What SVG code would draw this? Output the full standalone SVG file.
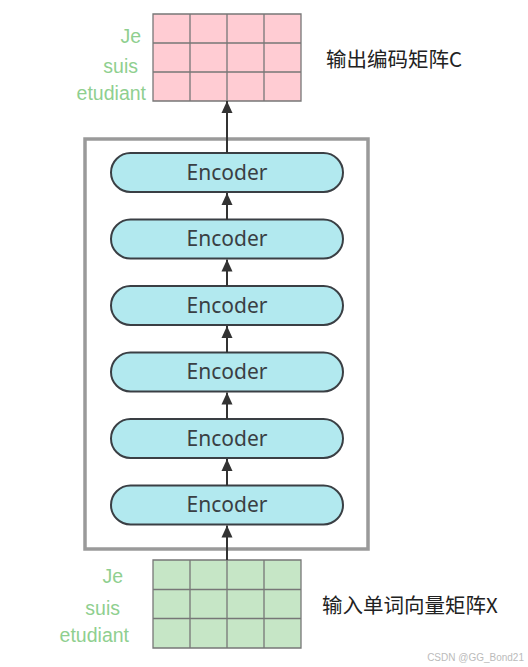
<svg xmlns="http://www.w3.org/2000/svg" width="528" height="667" viewBox="0 0 528 667">
<defs>
<style>
.enc{fill:#b2e9ef;stroke:#3a3f44;stroke-width:2}
.et{font-family:"Noto Sans","Open Sans",sans-serif;font-size:21px;fill:#3a3f44;text-anchor:middle}
.word{font-family:"Liberation Sans",Arial,sans-serif;font-size:19.5px;fill:#8fcf8f;text-anchor:end}
.grid{stroke:#777;stroke-width:1.3}
.cn{font-family:"Noto Sans CJK SC","Noto Sans",sans-serif;font-size:20.5px;fill:#222}
.conn{stroke:#333;stroke-width:2;fill:none;marker-end:url(#ah)}
</style>
<marker id="ah" viewBox="0 0 12 12" refX="12" refY="6" markerWidth="12" markerHeight="12" markerUnits="userSpaceOnUse" orient="auto">
<path d="M0,0.5 L12,6 L0,11.5 Z" fill="#333"/>
</marker>
</defs>
<rect width="528" height="667" fill="#fff"/>
<g id="output-matrix">
<rect x="153" y="14" width="148" height="87" fill="#ffccd3"/>
<g class="grid"><path d="M153,14H301V101H153Z M190,14V101 M227,14V101 M264,14V101 M153,43H301 M153,72H301" fill="none"/></g>
<text class="word" x="141" y="43">Je</text>
<text class="word" x="138" y="73">suis</text>
<text class="word" x="146" y="100">etudiant</text>
<text class="cn" x="326" y="67">输出编码矩阵C</text>
</g>
<g id="encoder-stack">
<rect x="85" y="139" width="283" height="410" fill="none" stroke="#9a9a9a" stroke-width="3.5"/>
</g>
<g id="enc6"><rect class="enc" x="111" y="153" width="232" height="39" rx="19.5"/><text class="et" x="227" y="179.5">Encoder</text></g>
<g id="enc5"><rect class="enc" x="111" y="219.5" width="232" height="39" rx="19.5"/><text class="et" x="227" y="246">Encoder</text></g>
<g id="enc4"><rect class="enc" x="111" y="286" width="232" height="39" rx="19.5"/><text class="et" x="227" y="312.5">Encoder</text></g>
<g id="enc3"><rect class="enc" x="111" y="352.5" width="232" height="39" rx="19.5"/><text class="et" x="227" y="379">Encoder</text></g>
<g id="enc2"><rect class="enc" x="111" y="419" width="232" height="39" rx="19.5"/><text class="et" x="227" y="445.5">Encoder</text></g>
<g id="enc1"><rect class="enc" x="111" y="485.5" width="232" height="39" rx="19.5"/><text class="et" x="227" y="512">Encoder</text></g>
<g id="input-matrix">
<rect x="153" y="560" width="148" height="88" fill="#c6e6c6"/>
<g class="grid"><path d="M153,560H301V648H153Z M190,560V648 M227,560V648 M264,560V648 M153,589.5H301 M153,618.5H301" fill="none"/></g>
<text class="word" x="123" y="583">Je</text>
<text class="word" x="120" y="615">suis</text>
<text class="word" x="129" y="642">etudiant</text>
<text class="cn" x="322" y="613">输入单词向量矩阵X</text>
</g>
<g id="connectors">
<line class="conn" x1="227" y1="560" x2="227" y2="525.5"/>
<line class="conn" x1="227" y1="485.5" x2="227" y2="459"/>
<line class="conn" x1="227" y1="419" x2="227" y2="392.5"/>
<line class="conn" x1="227" y1="352.5" x2="227" y2="326"/>
<line class="conn" x1="227" y1="286" x2="227" y2="259.5"/>
<line class="conn" x1="227" y1="219.5" x2="227" y2="193"/>
<line class="conn" x1="227" y1="153" x2="227" y2="101"/>
</g>
<text x="524" y="661" font-family="Liberation Sans,sans-serif" font-size="10" fill="#bbb" text-anchor="end">CSDN @GG_Bond21</text>
</svg>
